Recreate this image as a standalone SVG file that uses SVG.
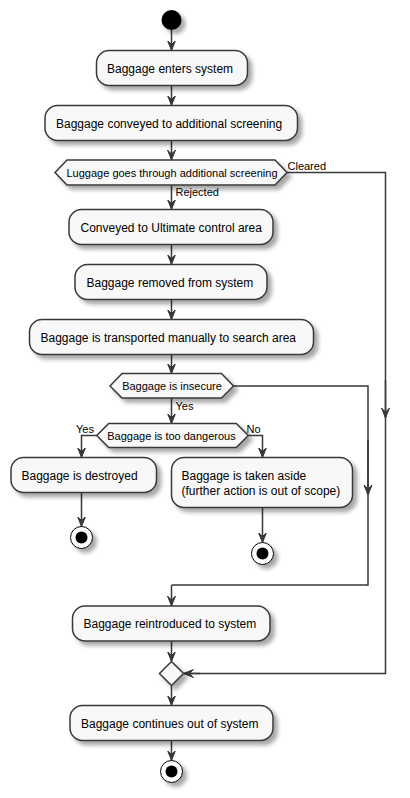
<svg xmlns="http://www.w3.org/2000/svg" width="410" height="798" viewBox="0 0 410 798">
<defs>
<filter id="sh" x="-20%" y="-20%" width="150%" height="170%">
<feGaussianBlur in="SourceAlpha" stdDeviation="2"/>
<feOffset dx="4" dy="4" result="b"/>
<feComponentTransfer><feFuncA type="linear" slope="0.35"/></feComponentTransfer>
<feMerge><feMergeNode/><feMergeNode in="SourceGraphic"/></feMerge>
</filter>
<marker id="ah" viewBox="0 0 12 10" refX="10" refY="5" markerWidth="12" markerHeight="10" markerUnits="userSpaceOnUse" orient="auto">
<polygon points="0,1 10,5 0,9 4,5" fill="#383838" stroke="#383838" stroke-width="1"/>
</marker>
</defs>
<style>
.box{fill:#F8F8F8;stroke:#383838;stroke-width:1.5;filter:url(#sh)}
.t{font-family:"Liberation Sans",Arial,sans-serif;font-size:12px;fill:#000}
.d{font-family:"Liberation Sans",Arial,sans-serif;font-size:11px;fill:#000}
.c{fill:none;stroke:#383838;stroke-width:1.5}
.ca{fill:none;stroke:#383838;stroke-width:1.5;marker-end:url(#ah)}
</style>
<rect width="410" height="798" fill="#FFFFFF"/>
<g id="connectors">
<line class="ca" x1="171.5" y1="30" x2="171.5" y2="50.5"/>
<line class="ca" x1="171.5" y1="85.5" x2="171.5" y2="105.5"/>
<line class="ca" x1="171.5" y1="140.5" x2="171.5" y2="160"/>
<line class="ca" x1="171.5" y1="185" x2="171.5" y2="209.5"/>
<line class="ca" x1="171.5" y1="244.5" x2="171.5" y2="264.5"/>
<line class="ca" x1="171.5" y1="299.5" x2="171.5" y2="319.5"/>
<line class="ca" x1="171.5" y1="354.5" x2="171.5" y2="373.5"/>
<line class="ca" x1="171.5" y1="398" x2="171.5" y2="423.5"/>
<polyline class="ca" points="96.7,435.5 81.5,435.5 81.5,457.5"/>
<polyline class="ca" points="248.3,435.5 262.5,435.5 262.5,457.5"/>
<line class="ca" x1="81.5" y1="492.5" x2="81.5" y2="526.5"/>
<line class="ca" x1="262.5" y1="507.5" x2="262.5" y2="542.5"/>
<polyline class="c" points="233.3,386 368,386 368,585 171.5,585"/>
<line class="ca" x1="368" y1="440" x2="368" y2="495"/>
<line class="ca" x1="171.5" y1="585" x2="171.5" y2="606"/>
<polyline class="c" points="287,172.5 385.5,172.5 385.5,673.5 183.5,673.5"/>
<line class="ca" x1="385.5" y1="380" x2="385.5" y2="418"/>
<line class="ca" x1="200" y1="673.5" x2="183.5" y2="673.5"/>
<line class="ca" x1="171.5" y1="641" x2="171.5" y2="661.5"/>
<line class="ca" x1="171.5" y1="685.5" x2="171.5" y2="705.5"/>
<line class="ca" x1="171.5" y1="740.5" x2="171.5" y2="760.5"/>
<text class="d" x="287.5" y="169.5">Cleared</text>
<text class="d" x="175.5" y="196">Rejected</text>
<text class="d" x="175.5" y="410">Yes</text>
<text class="d" x="76" y="433">Yes</text>
<text class="d" x="246.5" y="433">No</text>
</g>
<g id="start"><circle cx="171.5" cy="20" r="10" fill="#000" filter="url(#sh)"/></g>
<g id="n1"><rect class="box" x="96.5" y="50.5" width="151" height="35" rx="12.5"/><text class="t" x="107" y="72.5">Baggage enters system</text></g>
<g id="n2"><rect class="box" x="45" y="105.5" width="252.5" height="35" rx="12.5"/><text class="t" x="56" y="127.5">Baggage conveyed to additional screening</text></g>
<g id="d1"><polygon class="box" points="55,172.5 67,160 275,160 287,172.5 275,185 67,185"/><text class="d" x="172" y="176.5" text-anchor="middle">Luggage goes through additional screening</text></g>
<g id="n3"><rect class="box" x="69" y="209.5" width="204" height="35" rx="12.5"/><text class="t" x="80.5" y="231.5">Conveyed to Ultimate control area</text></g>
<g id="n4"><rect class="box" x="75" y="264.5" width="192" height="35" rx="12.5"/><text class="t" x="86.5" y="286.5">Baggage removed from system</text></g>
<g id="n5"><rect class="box" x="29.5" y="319.5" width="284" height="35" rx="12.5"/><text class="t" x="40.5" y="341.5">Baggage is transported manually to search area</text></g>
<g id="d2"><polygon class="box" points="110,386 122,373.5 221.5,373.5 233.5,386 221.5,398 122,398"/><text class="d" x="172" y="390" text-anchor="middle">Baggage is insecure</text></g>
<g id="d3"><polygon class="box" points="96.7,435.5 108.7,423.5 236.3,423.5 248.3,435.5 236.3,447.5 108.7,447.5"/><text class="d" x="171.5" y="439.5" text-anchor="middle">Baggage is too dangerous</text></g>
<g id="n6"><rect class="box" x="11" y="457.5" width="145.5" height="35" rx="12.5"/><text class="t" x="21.5" y="479.5">Baggage is destroyed</text></g>
<g id="n7"><rect class="box" x="171.5" y="457.5" width="181" height="50" rx="12.5"/><text class="t" x="181.5" y="479.5">Baggage is taken aside</text><text class="t" x="181.5" y="495">(further action is out of scope)</text></g>
<g id="end1"><circle cx="81.5" cy="537.5" r="11" fill="#FFFFFF" stroke="#000" stroke-width="1" filter="url(#sh)"/><circle cx="81.5" cy="537.5" r="6" fill="#000"/></g>
<g id="end2"><circle cx="262.5" cy="553.5" r="11" fill="#FFFFFF" stroke="#000" stroke-width="1" filter="url(#sh)"/><circle cx="262.5" cy="553.5" r="6" fill="#000"/></g>
<g id="n8"><rect class="box" x="72.5" y="606" width="197.5" height="35" rx="12.5"/><text class="t" x="83.5" y="628">Baggage reintroduced to system</text></g>
<g id="merge"><polygon class="box" points="171.5,661.5 183.5,673.5 171.5,685.5 159.5,673.5"/></g>
<g id="n9"><rect class="box" x="70" y="705.5" width="203" height="35" rx="12.5"/><text class="t" x="81" y="727.5">Baggage continues out of system</text></g>
<g id="end3"><circle cx="171.5" cy="771.5" r="11" fill="#FFFFFF" stroke="#000" stroke-width="1" filter="url(#sh)"/><circle cx="171.5" cy="771.5" r="6" fill="#000"/></g>
</svg>
